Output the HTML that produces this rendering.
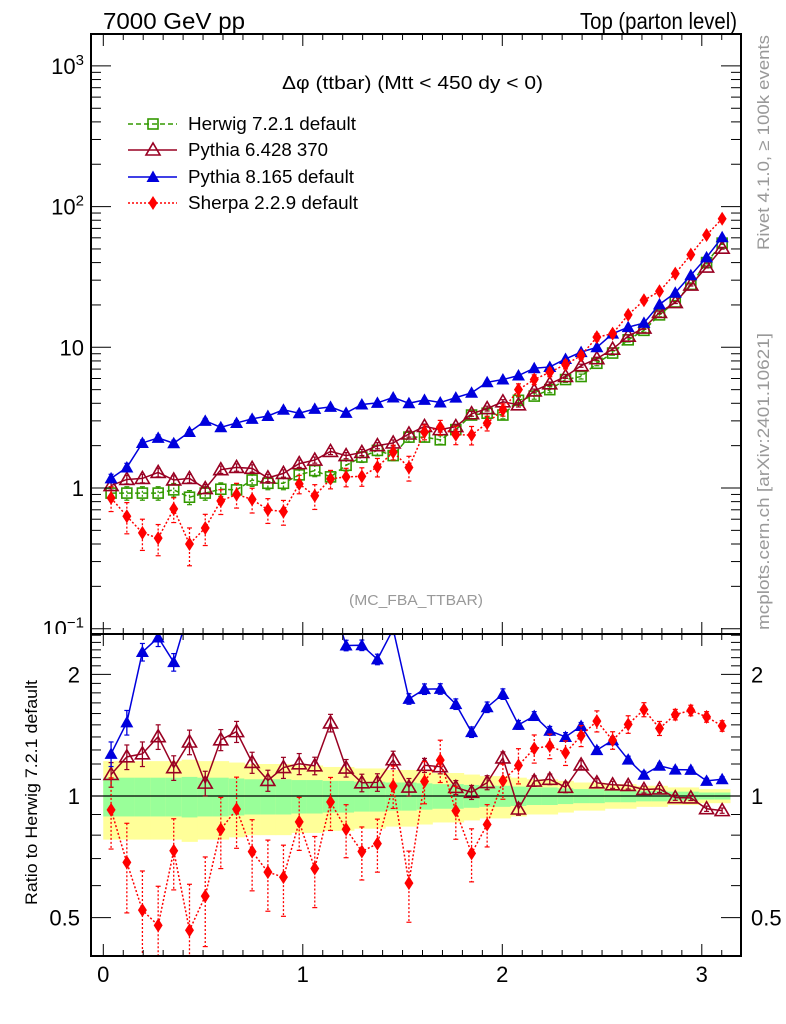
<!DOCTYPE html>
<html><head><meta charset="utf-8">
<style>
html,body{margin:0;padding:0;background:#fff;}
svg{display:block;font-family:"Liberation Sans",sans-serif;}
</style></head>
<body>
<svg id="chart" width="786" height="1024" viewBox="0 0 786 1024" xmlns="http://www.w3.org/2000/svg">
<defs>
<clipPath id="clipMain"><rect x="91" y="34" width="650" height="600"/></clipPath>
<clipPath id="clipRatio"><rect x="91" y="634" width="650" height="322"/></clipPath>
</defs>
<g id="layer-main"></g>
<g id="layer-ratio"></g>
<g id="layer-text">
<text x="103" y="29" font-size="23" textLength="142" lengthAdjust="spacingAndGlyphs">7000 GeV pp</text>
<text x="580" y="29" font-size="23" textLength="157" lengthAdjust="spacingAndGlyphs">Top (parton level)</text>
<text x="282" y="89" font-size="18" textLength="261" lengthAdjust="spacingAndGlyphs">Δφ (ttbar) (Mtt &lt; 450 dy &lt; 0)</text>
<text x="349" y="605" font-size="15" fill="#999" textLength="134" lengthAdjust="spacingAndGlyphs">(MC_FBA_TTBAR)</text>
<text transform="translate(769,250) rotate(-90)" font-size="17" fill="#999" textLength="215" lengthAdjust="spacingAndGlyphs">Rivet 4.1.0, ≥ 100k events</text>
<text transform="translate(769,630) rotate(-90)" font-size="17" fill="#999" textLength="297" lengthAdjust="spacingAndGlyphs">mcplots.cern.ch [arXiv:2401.10621]</text>
<text transform="translate(37,905) rotate(-90)" font-size="17" textLength="225" lengthAdjust="spacingAndGlyphs">Ratio to Herwig 7.2.1 default</text>
</g>
<g id="layer-legend"></g>
</svg>
<script>
const categories = [0.039,0.118,0.196,0.275,0.353,0.432,0.511,0.589,0.668,0.746,0.825,0.903,0.982,1.060,1.139,1.217,1.296,1.374,1.453,1.532,1.610,1.689,1.767,1.846,1.924,2.003,2.081,2.160,2.238,2.317,2.395,2.474,2.553,2.631,2.710,2.788,2.867,2.945,3.024,3.102];
const herwig = [0.92,0.92,0.92,0.92,0.97,0.86,0.92,0.98,0.97,1.14,1.08,1.08,1.24,1.33,1.2,1.45,1.66,1.85,1.7,2.3,2.3,2.2,2.6,3.3,3.4,3.3,4.2,4.5,5.0,5.9,6.2,7.7,9.1,11.3,13.2,17,21,28,40,55];
const herwigErr = [0.11,0.11,0.11,0.11,0.11,0.115,0.11,0.11,0.105,0.1,0.1,0.1,0.095,0.095,0.09,0.09,0.085,0.085,0.08,0.08,0.075,0.07,0.07,0.065,0.06,0.06,0.055,0.05,0.05,0.045,0.04,0.04,0.035,0.035,0.03,0.03,0.025,0.025,0.02,0.02];
const pythia6 = [1.04,1.15,1.17,1.29,1.14,1.17,0.99,1.35,1.40,1.38,1.18,1.27,1.49,1.58,1.82,1.70,1.79,2.0,2.09,2.42,2.74,2.6,2.73,3.37,3.67,4.1,3.9,4.9,5.5,6.2,7.4,8.3,9.7,12.0,13.7,17.7,20.8,27.7,37.2,50.6];
const pythia6Err = [0.07,0.07,0.07,0.07,0.07,0.07,0.07,0.06,0.06,0.06,0.06,0.06,0.06,0.05,0.05,0.05,0.05,0.05,0.05,0.05,0.04,0.04,0.04,0.04,0.04,0.035,0.035,0.03,0.03,0.03,0.025,0.025,0.02,0.02,0.02,0.02,0.015,0.015,0.015,0.015];
const pythia8 = [1.17,1.40,2.09,2.27,2.08,2.5,3.0,2.7,2.9,3.1,3.25,3.6,3.4,3.65,3.77,3.42,3.92,4.03,4.4,4.0,4.23,4.05,4.39,4.75,5.64,5.9,6.3,7.1,7.25,8.26,9.24,10.0,12.5,13.9,14.9,20.2,24.4,32.5,43.6,60.5];
const pythia8Err = [0.07,0.07,0.05,0.05,0.05,0.04,0.04,0.04,0.04,0.04,0.035,0.035,0.035,0.035,0.03,0.03,0.03,0.03,0.03,0.03,0.03,0.03,0.03,0.03,0.03,0.03,0.025,0.025,0.025,0.025,0.02,0.02,0.02,0.02,0.02,0.015,0.015,0.015,0.015,0.015];
const sherpa = [0.85,0.63,0.48,0.44,0.71,0.40,0.52,0.81,0.90,0.83,0.70,0.68,1.07,0.88,1.16,1.2,1.21,1.41,1.8,1.40,2.5,2.7,2.39,2.38,2.89,3.6,5.0,5.9,6.65,7.55,8.74,11.8,12.5,17.0,21.6,25,33.4,45.6,62.8,82];
const sherpaErr = [0.2,0.25,0.25,0.25,0.2,0.3,0.25,0.2,0.2,0.2,0.2,0.2,0.15,0.2,0.15,0.15,0.15,0.15,0.12,0.2,0.12,0.12,0.15,0.15,0.12,0.1,0.1,0.08,0.07,0.07,0.06,0.06,0.05,0.05,0.04,0.04,0.03,0.03,0.03,0.03];
const binWidth = 0.0785;
const xTicks = [0,1,2,3];
const mainTickLabels = ["10^-1","1","10","10^2","10^3"];
const mainTickValues = [0.1,1,10,100,1000];
const ratioTickValues = [0.5,1,2];
const ratioTickLabels = ["0.5","1","2"];

const NS = "http://www.w3.org/2000/svg";
const L = 91, R = 741, T = 34, MB = 634, RB = 956;
function xs(v){ return 103.3 + 199.5*v; }
function ym(v){ return 488 - 140.7*Math.log10(v); }
function yr(r){ return 796 - 404*Math.log10(r); }
function mk(tag, attrs, parent){
  const e = document.createElementNS(NS, tag);
  for (const k in attrs) e.setAttribute(k, attrs[k]);
  parent.appendChild(e);
  return e;
}
const gMain = document.getElementById('layer-main');
const gRatio = document.getElementById('layer-ratio');
const gLeg = document.getElementById('layer-legend');

mk('rect',{x:0,y:MB,width:786,height:390,fill:'#fff'},gRatio);

const series = [
  {key:'herwig', vals:herwig, err:herwigErr, color:'#339900', dash:'5,3', marker:'square', label:'Herwig 7.2.1 default', tl:168},
  {key:'pythia6', vals:pythia6, err:pythia6Err, color:'#990022', dash:'', marker:'otri', label:'Pythia 6.428 370', tl:140},
  {key:'pythia8', vals:pythia8, err:pythia8Err, color:'#0000dd', dash:'', marker:'tri', label:'Pythia 8.165 default', tl:166},
  {key:'sherpa', vals:sherpa, err:sherpaErr, color:'#ff0000', dash:'2,2', marker:'diamond', label:'Sherpa 2.2.9 default', tl:170}
];

function marker(type, cx, cy, color, parent){
  let e;
  if (type==='square') e = mk('rect',{x:cx-5,y:cy-5,width:10,height:10,fill:'none',stroke:color,'stroke-width':1.6},parent);
  else if (type==='otri') e = mk('path',{d:`M${cx-7},${cy+5}L${cx+7},${cy+5}L${cx},${cy-7}Z`,fill:'none',stroke:color,'stroke-width':1.6},parent);
  else if (type==='tri') e = mk('path',{d:`M${cx-6.5},${cy+5}L${cx+6.5},${cy+5}L${cx},${cy-6.5}Z`,fill:color},parent);
  else e = mk('path',{d:`M${cx},${cy-7}L${cx+4.5},${cy}L${cx},${cy+7}L${cx-4.5},${cy}Z`,fill:color},parent);
  return e;
}

const bandG = mk('g',{'clip-path':'url(#clipRatio)'},gRatio);


categories.forEach((c,i)=>{
  const x0 = xs(c-binWidth/2), x1 = xs(c+binWidth/2)+0.5;
  const e2 = 2*herwigErr[i], e1 = herwigErr[i];
  const yb = mk('rect',{x:x0,y:yr(1+e2),width:x1-x0,height:yr(1-e2)-yr(1+e2),fill:'#ffff99'},bandG);
  
  
  const gb = mk('rect',{x:x0,y:yr(1+e1),width:x1-x0,height:yr(1-e1)-yr(1+e1),fill:'#99ff99'},bandG);
  
  
});
mk('line',{x1:L,x2:R,y1:yr(1),y2:yr(1),stroke:'#000','stroke-width':1.3},gRatio);

const mainClip = mk('g',{'clip-path':'url(#clipMain)'},gMain);
const ratioClip = mk('g',{'clip-path':'url(#clipRatio)'},gRatio);
series.forEach(s=>{
  const gm = mk('g',{},mainClip);
  
  
  const gr = mk('g',{},ratioClip);
  
  
  const pm = categories.map((c,i)=>`${xs(c)},${ym(s.vals[i])}`).join(' ');
  const lm = mk('polyline',{points:pm,fill:'none',stroke:s.color,'stroke-width':1.5,'stroke-dasharray':s.dash},gm);
  
  
  const ratios = categories.map((c,i)=>s.vals[i]/herwig[i]);
  if (s.key!=='herwig'){
    const pr = categories.map((c,i)=>`${xs(c)},${yr(ratios[i])}`).join(' ');
    const lr = mk('polyline',{points:pr,fill:'none',stroke:s.color,'stroke-width':1.5,'stroke-dasharray':s.dash},gr);
    
    
  }
  categories.forEach((c,i)=>{
    const cx = xs(c), v = s.vals[i], e = s.err[i];
    const y1 = ym(v*(1+e)), y2 = ym(v*(1-e));
    mk('line',{x1:cx,x2:cx,y1:y1,y2:y2,stroke:s.color,'stroke-width':1.3,'stroke-dasharray':s.dash?'2,2':''},gm);
    mk('line',{x1:cx-2.5,x2:cx+2.5,y1:y1,y2:y1,stroke:s.color,'stroke-width':1.2},gm);
    mk('line',{x1:cx-2.5,x2:cx+2.5,y1:y2,y2:y2,stroke:s.color,'stroke-width':1.2},gm);
    const m = marker(s.marker,cx,ym(v),s.color,gm);
    
    
    if (s.key!=='herwig'){
      const r = ratios[i];
      const ry1 = yr(r*(1+e)), ry2 = yr(r*(1-e));
      mk('line',{x1:cx,x2:cx,y1:ry1,y2:ry2,stroke:s.color,'stroke-width':1.3,'stroke-dasharray':s.dash?'2,2':''},gr);
      mk('line',{x1:cx-2.5,x2:cx+2.5,y1:ry1,y2:ry1,stroke:s.color,'stroke-width':1.2},gr);
      mk('line',{x1:cx-2.5,x2:cx+2.5,y1:ry2,y2:ry2,stroke:s.color,'stroke-width':1.2},gr);
      const mr = marker(s.marker,cx,yr(r),s.color,gr);
      
      
    }
  });
});

const fm = mk('rect',{x:L,y:T,width:R-L,height:MB-T,fill:'none',stroke:'#000','stroke-width':2},gMain);


const fr = mk('rect',{x:L,y:MB,width:R-L,height:RB-MB,fill:'none',stroke:'#000','stroke-width':2},gRatio);



const axG = mk('g',{stroke:'#000','stroke-width':1},gRatio);
for (let k=0;k<=31;k++){
  const v = k/10, x = xs(v);
  if (x>R-1) break;
  const len = (k%10===0)?12:6;
  [[T,1],[MB,-1],[MB,1],[RB,-1]].forEach(([y,d])=>{
    mk('line',{x1:x,x2:x,y1:y,y2:y+d*len},axG);
  });
}
xTicks.forEach(v=>{
  const t = mk('text',{x:xs(v),y:982,'font-size':22,'text-anchor':'middle'},gRatio);
  t.textContent = String(v);
  
  
});

for (let d=-1; d<=3; d++){
  for (let m=1;m<=9;m++){
    const v = m*Math.pow(10,d), y = ym(v);
    if (y<T || y>MB) continue;
    const len = m===1?20:10;
    mk('line',{x1:L,x2:L+len,y1:y,y2:y},axG);
    mk('line',{x1:R,x2:R-len,y1:y,y2:y},axG);
  }
}
mainTickValues.forEach((v,i)=>{
  const lab = mainTickLabels[i];
  const y = ym(v)+8;
  const t = mk('text',{x:84,y:y,'font-size':22,'text-anchor':'end'},gMain);
  if (lab.indexOf('^')>=0){
    const [b,p] = lab.split('^');
    t.textContent = b;
    const ts = mk('tspan',{dy:-9,'font-size':15},t);
    ts.textContent = p.replace('-','−');
  } else t.textContent = lab;
  
  
});
mk('rect',{x:0,y:MB+1,width:L-1,height:20,fill:'#fff'},gRatio);

for (let k=3;k<=25;k++){
  const r = k/10, y = yr(r);
  if (y<MB || y>RB) continue;
  const major = (k===5||k===10||k===20);
  const len = major?20:10;
  mk('line',{x1:L,x2:L+len,y1:y,y2:y},axG);
  mk('line',{x1:R,x2:R-len,y1:y,y2:y},axG);
}
ratioTickValues.forEach((v,i)=>{
  const t = mk('text',{x:80,y:yr(v)+8,'font-size':22,'text-anchor':'end'},gRatio);
  t.textContent = ratioTickLabels[i];
  
  
  const t2 = mk('text',{x:751,y:yr(v)+8,'font-size':22},gRatio);
  t2.textContent = ratioTickLabels[i];
  
  
});

const legY = [124,150,177,203];
series.forEach((s,i)=>{
  const g = mk('g',{},gLeg);
  
  
  const y = legY[i];
  mk('line',{x1:128,x2:177,y1:y,y2:y,stroke:s.color,'stroke-width':1.5,'stroke-dasharray':s.dash},g);
  marker(s.marker,153,y,s.color,g);
  const t = mk('text',{x:188,y:y+6,'font-size':18,textLength:s.tl,lengthAdjust:'spacingAndGlyphs'},g);
  t.textContent = s.label;
});
</script>
</body></html>
